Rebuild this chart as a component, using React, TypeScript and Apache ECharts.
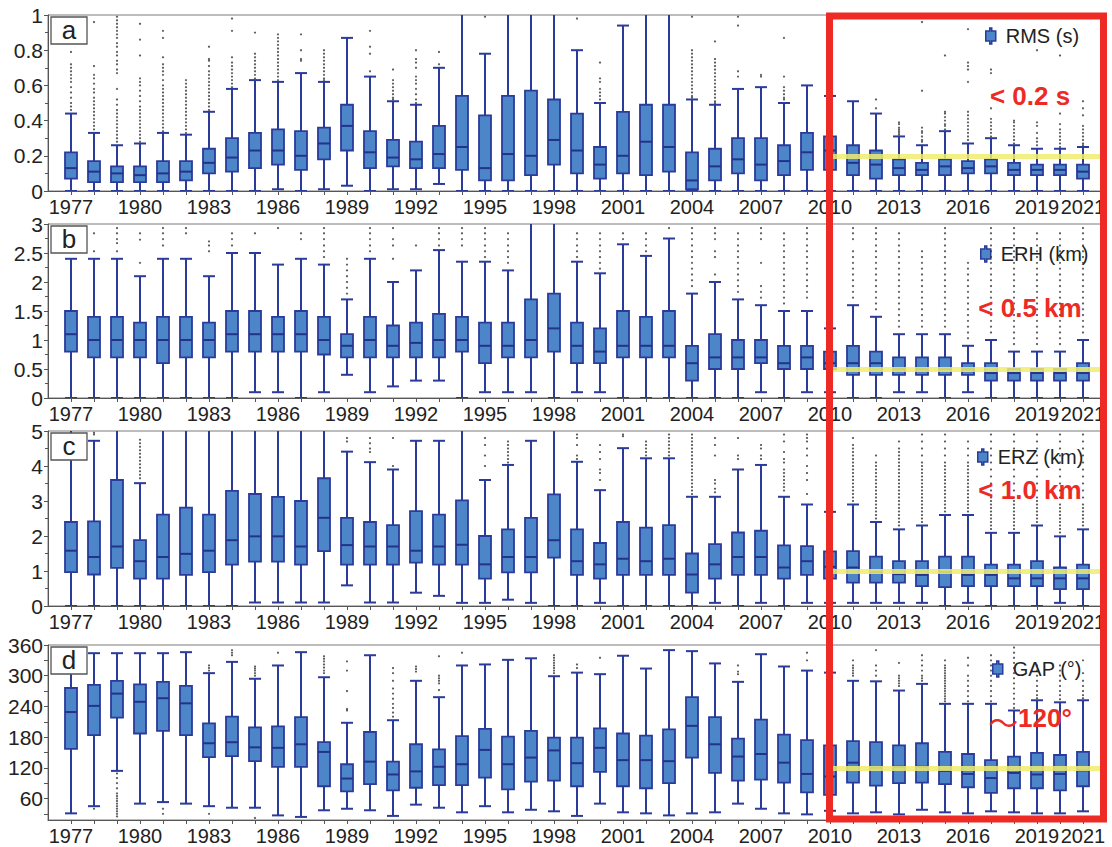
import React, { useEffect, useRef } from 'react';
import * as echarts from 'echarts';

// ---------- categories ----------
const years = [1977, 1978, 1979, 1980, 1981, 1982, 1983, 1984, 1985, 1986, 1987, 1988, 1989, 1990, 1991,
  1992, 1993, 1994, 1995, 1996, 1997, 1998, 1999, 2000, 2001, 2002, 2003, 2004, 2005, 2006, 2007, 2008,
  2009, 2010, 2011, 2012, 2013, 2014, 2015, 2016, 2017, 2018, 2019, 2020, 2021];
const labelYears = [1977, 1980, 1983, 1986, 1989, 1992, 1995, 1998, 2001, 2004, 2007, 2010, 2013, 2016, 2019, 2021];
const highlightStart = 2010;

// ---------- box values: [low whisker, Q1, median, Q3, high whisker] ----------
const rmsBoxes = [
  [0, 0.07, 0.13, 0.22, 0.44], [0, 0.05, 0.11, 0.17, 0.33], [0, 0.05, 0.10, 0.14, 0.26], [0, 0.05, 0.09, 0.14, 0.27],
  [0, 0.05, 0.10, 0.17, 0.33], [0, 0.06, 0.11, 0.17, 0.32], [0, 0.10, 0.16, 0.24, 0.45], [0, 0.11, 0.19, 0.30, 0.58],
  [0, 0.13, 0.23, 0.33, 0.63], [0.01, 0.15, 0.23, 0.35, 0.62], [0, 0.12, 0.20, 0.34, 0.67], [0.01, 0.18, 0.27, 0.36, 0.62],
  [0.03, 0.23, 0.37, 0.49, 0.87], [0, 0.13, 0.22, 0.34, 0.65], [0.01, 0.14, 0.19, 0.29, 0.51], [0.01, 0.13, 0.18, 0.28, 0.49],
  [0.04, 0.13, 0.21, 0.37, 0.70], [0, 0.12, 0.25, 0.54, 1.2], [0, 0.06, 0.13, 0.43, 0.78], [0, 0.06, 0.21, 0.54, 1.2],
  [0, 0.09, 0.20, 0.57, 1.2], [0, 0.15, 0.29, 0.52, 1.2], [0, 0.10, 0.23, 0.44, 0.80], [0, 0.07, 0.15, 0.25, 0.50],
  [0, 0.10, 0.20, 0.45, 0.94], [0, 0.09, 0.28, 0.49, 1.2], [0, 0.11, 0.25, 0.49, 1.2], [0, 0.01, 0.06, 0.22, 0.52],
  [0, 0.06, 0.14, 0.24, 0.49], [0, 0.10, 0.18, 0.30, 0.58], [0, 0.06, 0.15, 0.30, 0.59], [0, 0.09, 0.17, 0.26, 0.50],
  [0, 0.12, 0.22, 0.33, 0.60], [0, 0.12, 0.23, 0.31, 0.54], [0, 0.09, 0.16, 0.26, 0.51], [0, 0.07, 0.15, 0.23, 0.44],
  [0, 0.09, 0.13, 0.18, 0.31], [0, 0.09, 0.12, 0.16, 0.26], [0, 0.09, 0.14, 0.18, 0.34], [0, 0.10, 0.13, 0.17, 0.27],
  [0, 0.10, 0.14, 0.18, 0.30], [0, 0.09, 0.12, 0.16, 0.26], [0, 0.09, 0.12, 0.15, 0.24], [0, 0.09, 0.12, 0.15, 0.24],
  [0, 0.07, 0.11, 0.15, 0.25],
];
const erhBoxes = [
  [0, 0.8, 1.1, 1.5, 2.4], [0, 0.7, 1.0, 1.4, 2.4], [0, 0.7, 1.0, 1.4, 2.4], [0, 0.7, 1.0, 1.3, 2.1],
  [0, 0.6, 1.0, 1.4, 2.4], [0, 0.7, 1.0, 1.4, 2.4], [0, 0.7, 1.0, 1.3, 2.1], [0, 0.8, 1.1, 1.5, 2.5],
  [0.1, 0.8, 1.1, 1.5, 2.5], [0.1, 0.8, 1.1, 1.4, 2.3], [0, 0.8, 1.1, 1.5, 2.4], [0.1, 0.75, 1.0, 1.4, 2.3],
  [0.4, 0.7, 0.9, 1.1, 1.7], [0.1, 0.7, 1.0, 1.4, 2.4], [0.2, 0.7, 0.9, 1.25, 2.0], [0.3, 0.7, 0.95, 1.3, 2.2],
  [0.3, 0.7, 1.0, 1.45, 2.55], [0, 0.8, 1.0, 1.4, 2.35], [0.1, 0.6, 0.9, 1.3, 2.35], [0.1, 0.7, 0.9, 1.3, 2.2],
  [0.1, 0.7, 1.0, 1.7, 3.5], [0, 0.8, 1.2, 1.8, 3.5], [0.1, 0.6, 0.9, 1.3, 2.35], [0.1, 0.6, 0.8, 1.2, 2.15],
  [0, 0.7, 0.9, 1.5, 2.65], [0, 0.7, 0.9, 1.4, 2.45], [0, 0.7, 0.9, 1.5, 2.75], [0, 0.3, 0.6, 0.9, 1.8],
  [0, 0.5, 0.7, 1.1, 2.0], [0, 0.5, 0.7, 1.0, 1.7], [0.1, 0.6, 0.7, 1.0, 1.6], [0, 0.5, 0.6, 0.9, 1.5],
  [0.1, 0.5, 0.7, 0.9, 1.5], [0.1, 0.5, 0.6, 0.8, 1.2], [0, 0.4, 0.6, 0.9, 1.6], [0, 0.4, 0.6, 0.8, 1.4],
  [0.1, 0.4, 0.5, 0.7, 1.1], [0.1, 0.4, 0.5, 0.7, 1.1], [0, 0.4, 0.5, 0.7, 1.1], [0.1, 0.4, 0.5, 0.6, 0.9],
  [0, 0.3, 0.43, 0.6, 1.0], [0, 0.3, 0.43, 0.5, 0.8], [0, 0.3, 0.43, 0.5, 0.8], [0, 0.3, 0.43, 0.5, 0.8],
  [0, 0.3, 0.43, 0.6, 1.0],
];
const erzBoxes = [
  [0, 0.97, 1.58, 2.4, 5.5], [0, 0.9, 1.4, 2.42, 4.72], [0, 1.09, 1.7, 3.6, 5.5], [0, 0.78, 1.28, 1.88, 3.51],
  [0, 0.78, 1.4, 2.61, 5.5], [0, 0.89, 1.49, 2.81, 5.5], [0, 0.97, 1.58, 2.61, 5.5], [0, 1.18, 1.88, 3.29, 5.5],
  [0.1, 1.27, 1.99, 3.2, 5.5], [0.1, 1.27, 1.99, 3.12, 5.5], [0.1, 1.18, 1.7, 3.0, 5.5], [0.1, 1.57, 2.52, 3.65, 5.5],
  [0.59, 1.18, 1.74, 2.52, 4.41], [0.1, 1.18, 1.7, 2.4, 4.11], [0.1, 1.18, 1.7, 2.31, 3.9], [0.38, 1.24, 1.58, 2.71, 4.72],
  [0.29, 1.18, 1.7, 2.61, 4.72], [0.09, 1.18, 1.75, 3.02, 5.5], [0.09, 0.78, 1.19, 2.0, 3.6], [0.18, 0.96, 1.4, 2.19, 4.03],
  [0.09, 0.96, 1.4, 2.52, 4.72], [0, 1.38, 1.88, 3.19, 5.5], [0, 0.89, 1.28, 2.19, 4.12], [0.09, 0.78, 1.19, 1.8, 3.31],
  [0, 0.89, 1.35, 2.4, 4.51], [0, 0.89, 1.28, 2.24, 4.22], [0, 0.89, 1.35, 2.31, 4.22], [0, 0.38, 0.9, 1.5, 3.12],
  [0.09, 0.78, 1.19, 1.77, 3.12], [0, 0.89, 1.4, 2.1, 3.9], [0.09, 0.89, 1.4, 2.15, 4.03], [0, 0.78, 1.1, 1.73, 3.12],
  [0.09, 0.89, 1.28, 1.71, 2.9], [0.09, 0.78, 1.12, 1.56, 2.69], [0.09, 0.67, 1.1, 1.57, 2.9], [0.09, 0.67, 0.97, 1.41, 2.4],
  [0.09, 0.67, 0.91, 1.28, 2.19], [0.09, 0.57, 0.89, 1.28, 2.3], [0, 0.54, 0.97, 1.41, 2.6], [0.09, 0.57, 0.89, 1.41, 2.6],
  [0, 0.57, 0.89, 1.18, 2.09], [0, 0.57, 0.79, 1.18, 2.09], [0, 0.57, 0.79, 1.28, 2.3], [0.09, 0.48, 0.79, 1.1, 1.99],
  [0, 0.48, 0.79, 1.18, 2.19],
];
const gapBoxes = [
  [31, 157, 229, 276, 330], [45, 184, 241, 282, 344], [114, 218, 265, 290, 344], [50, 187, 249, 283, 344],
  [53, 192, 256, 288, 344], [50, 184, 246, 280, 346], [45, 141, 168, 207, 305], [42, 143, 170, 220, 327],
  [42, 133, 160, 199, 294], [27, 122, 159, 201, 320], [24, 122, 166, 219, 346], [37, 84, 151, 170, 297],
  [40, 74, 99, 127, 208], [37, 88, 132, 190, 340], [26, 76, 107, 132, 213], [48, 81, 113, 166, 290],
  [42, 86, 122, 156, 258], [33, 86, 127, 182, 320], [45, 101, 155, 196, 322], [33, 78, 127, 181, 331],
  [38, 93, 140, 192, 334], [35, 95, 154, 179, 299], [26, 84, 129, 179, 306], [50, 112, 159, 197, 303],
  [33, 84, 135, 187, 339], [31, 80, 135, 183, 314], [27, 90, 133, 195, 350], [31, 140, 202, 258, 348],
  [33, 110, 166, 219, 324], [50, 95, 142, 177, 288], [40, 97, 147, 214, 342], [31, 91, 130, 185, 318],
  [29, 72, 108, 174, 310], [36, 67, 103, 164, 306], [31, 91, 130, 172, 290], [33, 85, 120, 170, 289],
  [29, 90, 122, 164, 271], [38, 91, 122, 168, 284], [33, 88, 114, 151, 245], [31, 82, 108, 147, 245],
  [35, 71, 100, 135, 245], [33, 80, 110, 142, 232], [31, 80, 107, 149, 252], [31, 76, 108, 145, 248],
  [35, 84, 115, 151, 252],
];

// ---------- outliers per year ----------
const rmsOutliers: Record<number, number[]> = {
  1977: [0.79, 0.72, 0.70, 0.68, 0.66, 0.64, 0.62, 0.59, 0.56, 0.53, 0.50, 0.48, 0.46],
  1978: [0.96, 0.71, 0.66, 0.64, 0.61, 0.58, 0.56, 0.53, 0.51, 0.49, 0.47, 0.45, 0.43, 0.41, 0.39, 0.37, 0.35],
  1979: [0.99, 0.97, 0.95, 0.93, 0.91, 0.89, 0.87, 0.84, 0.82, 0.79, 0.77, 0.74, 0.72, 0.69, 0.67, 0.58, 0.52, 0.49, 0.46, 0.44, 0.42, 0.40, 0.38, 0.36, 0.34, 0.32, 0.30, 0.28],
  1980: [0.95, 0.86, 0.77, 0.64, 0.62, 0.60, 0.57, 0.54, 0.51, 0.48, 0.46, 0.44, 0.42, 0.40, 0.38, 0.36, 0.34, 0.32, 0.30, 0.28],
  1981: [0.91, 0.87, 0.76, 0.72, 0.70, 0.68, 0.66, 0.63, 0.60, 0.58, 0.56, 0.54, 0.52, 0.50, 0.48, 0.46, 0.44, 0.42, 0.40, 0.38, 0.36, 0.34],
  1982: [0.63, 0.61, 0.59, 0.57, 0.55, 0.53, 0.51, 0.49, 0.47, 0.45, 0.43, 0.41, 0.39, 0.37, 0.35, 0.33],
  1983: [0.82, 0.75, 0.74, 0.71, 0.68, 0.66, 0.64, 0.62, 0.60, 0.58, 0.56, 0.54, 0.52, 0.50, 0.48, 0.46],
  1984: [0.98, 0.91, 0.76, 0.73, 0.71, 0.69, 0.67, 0.65, 0.63, 0.61, 0.59],
  1985: [0.90, 0.78, 0.76, 0.74, 0.72, 0.70, 0.68, 0.66, 0.64],
  1986: [0.89, 0.87, 0.85, 0.83, 0.81, 0.79, 0.77, 0.75, 0.73, 0.71, 0.69, 0.67, 0.65, 0.63],
  1987: [0.89, 0.80, 0.75, 0.74],
  1988: [0.80, 0.78, 0.76, 0.74, 0.72, 0.70, 0.68, 0.66, 0.64, 0.63],
  1990: [0.91, 0.82, 0.78, 0.68],
  1991: [0.69, 0.63, 0.61, 0.59, 0.57, 0.55, 0.53, 0.52],
  1992: [0.80, 0.75, 0.73, 0.70, 0.65, 0.63, 0.61, 0.58, 0.55, 0.52, 0.50],
  1993: [0.79, 0.72],
  1995: [0.99],
  1999: [0.98],
  2000: [0.73, 0.64, 0.62, 0.58, 0.56, 0.54, 0.52],
  2004: [0.99, 0.80, 0.78, 0.76, 0.74, 0.72, 0.70, 0.68, 0.66, 0.64, 0.62, 0.60, 0.58, 0.56, 0.54, 0.53],
  2005: [0.85, 0.75, 0.73, 0.71, 0.69, 0.67, 0.65, 0.63, 0.61, 0.59, 0.57, 0.55, 0.53, 0.51, 0.50],
  2006: [0.99, 0.94, 0.68, 0.65],
  2007: [0.66, 0.65],
  2008: [0.87, 0.65, 0.59, 0.57, 0.55, 0.53, 0.52],
  2010: [0.90, 0.80, 0.70, 0.65, 0.60],
  2012: [0.52, 0.47],
  2013: [0.39, 0.38, 0.36, 0.35, 0.34, 0.33, 0.32],
  2014: [0.96, 0.57, 0.36, 0.34, 0.33, 0.31, 0.29, 0.28],
  2015: [0.77, 0.45, 0.44, 0.42, 0.40, 0.38, 0.37, 0.35],
  2016: [0.92, 0.73, 0.71, 0.69, 0.62, 0.45, 0.43, 0.41, 0.39, 0.37, 0.35, 0.33, 0.31, 0.29],
  2017: [0.69, 0.67, 0.47, 0.41, 0.39, 0.37, 0.35, 0.33, 0.31],
  2018: [0.40, 0.39, 0.37, 0.35, 0.33, 0.31, 0.29, 0.27],
  2019: [0.80, 0.39, 0.37, 0.33, 0.30, 0.28, 0.26],
  2020: [0.77, 0.44, 0.38, 0.35, 0.33, 0.31, 0.29, 0.27, 0.25],
  2021: [0.51, 0.47, 0.43, 0.37, 0.35, 0.33, 0.31, 0.29, 0.27, 0.26],
};
const erhOutliers: Record<number, number[]> = {
  1978: [2.84, 2.53],
  1979: [2.93, 2.84, 2.74, 2.67, 2.53],
  1980: [2.84, 2.73, 2.33],
  1981: [2.93, 2.84, 2.74, 2.63],
  1982: [2.93, 2.84],
  1983: [2.7, 2.63, 2.53],
  1984: [2.84, 2.74, 2.63],
  1985: [2.84],
  1986: [2.93],
  1987: [2.84, 2.74],
  1988: [2.93, 2.84, 2.74, 2.63, 2.53, 2.43],
  1989: [2.4, 2.3, 2.2, 2.1, 2.0, 1.9, 1.8],
  1990: [2.93, 2.84, 2.74, 2.63, 2.53],
  1991: [2.93, 2.74, 2.63, 2.4],
  1992: [2.63],
  1993: [2.93, 2.84, 2.74, 2.63],
  1994: [2.93, 2.84, 2.74, 2.63],
  1995: [2.93, 2.84, 2.74, 2.63, 2.53, 2.43],
  1996: [2.84, 2.74, 2.63, 2.53, 2.43, 2.33],
  1999: [2.84, 2.74, 2.63, 2.53, 2.43],
  2000: [2.84, 2.74, 2.63, 2.53, 2.43, 2.33, 2.23],
  2001: [2.84, 2.74],
  2002: [2.84, 2.74, 2.63, 2.53],
  2003: [2.93],
  2004: [2.93, 2.84, 2.74, 2.63, 2.53, 2.43, 2.33, 2.23, 2.13, 2.03, 1.93],
  2005: [2.93, 2.84, 2.74, 2.53, 2.43, 2.13],
  2006: [2.84, 2.74, 2.63, 2.53, 2.43, 2.33, 2.23, 2.13, 2.03, 1.93, 1.83],
  2007: [2.93, 2.84, 2.74, 2.33, 1.93, 1.83, 1.73],
  2008: [2.84, 2.74, 2.63, 2.53, 2.43, 2.33, 2.23, 2.13, 2.03, 1.93, 1.83, 1.73, 1.63],
  2009: [2.93, 2.84, 2.74, 2.63, 2.53, 2.43, 2.33, 2.23, 2.13, 2.03, 1.93, 1.83, 1.73],
  2010: [2.9, 2.8, 2.7, 2.5, 2.3, 2.1, 1.9, 1.7, 1.5, 1.3],
  2011: [2.93, 2.84, 2.74, 2.53, 2.43, 2.33, 2.23, 2.13, 2.03, 1.93, 1.83, 1.73],
  2012: [2.93, 2.84, 2.74, 2.63, 2.53, 2.43, 2.33, 2.23, 2.13, 2.03, 1.93, 1.83, 1.73, 1.63, 1.53],
  2013: [2.84, 2.74, 2.63, 2.53, 2.43, 2.33, 2.23, 2.13, 2.03, 1.93, 1.83, 1.73, 1.63, 1.53, 1.43, 1.33, 1.23],
  2014: [2.53, 2.43, 2.33, 2.23, 2.13, 2.03, 1.93, 1.83, 1.73, 1.63, 1.53, 1.43, 1.33, 1.23],
  2015: [2.93, 2.84, 2.74, 2.63, 2.53, 2.43, 2.33, 2.23, 2.13, 2.03, 1.93, 1.83, 1.73, 1.63, 1.53, 1.43, 1.33, 1.23],
  2016: [2.33, 2.23, 2.13, 2.03, 1.93, 1.83, 1.73, 1.63, 1.53, 1.43, 1.33, 1.23, 1.13, 1.03],
  2017: [2.93, 2.84, 2.74, 2.63, 2.53, 2.43, 2.33, 2.23, 2.13, 2.03, 1.93, 1.83, 1.73, 1.63, 1.53, 1.43, 1.33, 1.23, 1.13],
  2018: [2.93, 2.84, 2.74, 2.63, 2.53, 2.43, 2.33, 2.23, 2.13, 2.03, 1.93, 1.83, 1.73, 1.63, 1.53, 1.43, 1.33, 1.23, 1.13, 1.03, 0.93],
  2019: [2.84, 2.74, 2.63, 2.53, 2.43, 2.33, 2.23, 2.13, 2.03, 1.93, 1.83, 1.73, 1.63, 1.53, 1.43, 1.33, 1.23, 1.13, 1.03, 0.93],
  2020: [2.84, 2.74, 2.63, 2.53, 2.43, 2.33, 2.23, 2.13, 2.03, 1.93, 1.83, 1.73, 1.63, 1.53, 1.43, 1.33, 1.23, 1.13, 1.03, 0.93],
  2021: [2.93, 2.84, 2.74, 2.63, 2.53, 2.43, 2.33, 2.23, 2.13, 2.03, 1.93, 1.83, 1.73, 1.63, 1.53, 1.43, 1.33, 1.23, 1.13],
};
const erzOutliers: Record<number, number[]> = {
  1978: [4.95, 4.9],
  1980: [4.75, 4.65, 4.55, 4.45, 4.35, 4.25, 4.15, 4.05, 3.95, 3.85, 3.75, 3.65],
  1989: [4.8, 4.7],
  1990: [4.8, 4.65, 4.5, 4.4],
  1991: [4.8, 4.0],
  1995: [4.8, 4.6, 4.3, 4.0],
  1996: [4.7, 4.6, 4.5, 4.4, 4.3, 4.2, 4.1],
  1999: [4.9, 4.8, 4.6, 4.3, 4.2],
  2000: [4.6, 4.4, 4.2, 3.9, 3.8, 3.6],
  2001: [4.9, 4.85],
  2002: [4.7, 4.6, 4.5, 4.4, 4.3],
  2003: [4.9, 4.8, 4.7, 4.6, 4.5, 4.4, 4.3],
  2004: [4.9, 4.8, 4.7, 4.6, 4.5, 4.4, 4.3, 4.2, 4.1, 4.0, 3.9, 3.8, 3.7, 3.6, 3.5, 3.4, 3.3, 3.2],
  2005: [4.8, 4.6, 4.3, 3.6, 3.5, 3.35, 3.25],
  2006: [4.8, 4.3, 4.2],
  2007: [4.6, 4.5, 4.3, 4.2],
  2008: [4.9, 4.7, 4.4, 4.2, 4.1, 3.9, 3.8, 3.7, 3.6, 3.5, 3.4, 3.3],
  2009: [4.9, 4.8, 4.7, 4.5, 4.3, 4.0, 3.8, 3.6, 3.2],
  2010: [4.8, 4.5, 4.2, 3.9, 3.6, 3.3, 3.0],
  2011: [4.8, 4.6, 4.5, 4.4, 4.3, 4.2, 4.1, 4.0, 3.9, 3.8, 3.7, 3.6, 3.5, 3.4, 3.3, 3.2, 3.1, 3.0],
  2012: [4.3, 4.1, 4.0, 3.9, 3.8, 3.7, 3.6, 3.5, 3.4, 3.3, 3.2, 3.1, 3.0, 2.9, 2.8, 2.7, 2.6, 2.5],
  2013: [4.7, 4.5, 4.4, 4.3, 4.2, 4.1, 4.0, 3.9, 3.8, 3.7, 3.6, 3.5, 3.4, 3.3, 3.2, 3.1, 3.0, 2.9, 2.8, 2.7, 2.6, 2.5, 2.4, 2.3],
  2014: [4.9, 4.7, 4.5, 4.3, 4.1, 4.0, 3.9, 3.8, 3.7, 3.6, 3.5, 3.4, 3.3, 3.2, 3.1, 3.0, 2.9, 2.8, 2.7, 2.6, 2.5, 2.4],
  2015: [4.9, 4.7, 4.5, 4.3, 4.1, 4.0, 3.9, 3.8, 3.7, 3.6, 3.5, 3.4, 3.3, 3.2, 3.1, 3.0, 2.9, 2.8, 2.7],
  2016: [4.7, 4.5, 4.3, 4.1, 4.0, 3.9, 3.8, 3.7, 3.6, 3.5, 3.4, 3.3, 3.2, 3.1, 3.0, 2.9, 2.8, 2.7],
  2017: [4.9, 4.7, 4.5, 4.3, 4.1, 3.9, 3.7, 3.5, 3.3, 3.1, 3.0, 2.9, 2.8, 2.7, 2.6, 2.5, 2.4, 2.3, 2.2],
  2018: [4.9, 4.7, 4.5, 4.3, 4.1, 3.9, 3.7, 3.5, 3.3, 3.1, 3.0, 2.9, 2.8, 2.7, 2.6, 2.5, 2.4, 2.3, 2.2],
  2019: [4.9, 4.7, 4.5, 4.3, 4.1, 3.9, 3.7, 3.5, 3.3, 3.1, 3.0, 2.9, 2.8, 2.7, 2.6, 2.5, 2.4],
  2020: [4.9, 4.7, 4.5, 4.3, 4.1, 3.9, 3.7, 3.5, 3.3, 3.1, 2.9, 2.8, 2.7, 2.6, 2.5, 2.4, 2.3, 2.2, 2.1],
  2021: [4.9, 4.7, 4.5, 4.3, 4.1, 3.9, 3.7, 3.5, 3.3, 3.1, 2.9, 2.8, 2.7, 2.6, 2.5, 2.4, 2.3],
};
const gapOutliers: Record<number, number[]> = {
  1978: [40],
  1979: [109, 100, 90, 80, 70, 65, 60, 55, 50, 45, 40, 35, 30, 25],
  1981: [40, 30],
  1983: [320, 315, 310, 30],
  1984: [350, 345, 340],
  1985: [318, 314, 310, 305, 300, 22],
  1986: [345],
  1988: [338, 333, 328, 322, 316, 310, 305],
  1989: [328, 310, 270, 235, 232],
  1991: [315, 305, 290, 275, 265, 255, 245, 237, 228, 220],
  1992: [318, 313, 308],
  1993: [338, 300, 295, 290, 285, 272],
  1994: [345],
  1998: [340, 335, 330, 325, 320, 315, 310, 305],
  1999: [322, 315],
  2000: [335],
  2006: [320, 308, 303],
  2009: [345, 330],
  2010: [350, 330, 320],
  2011: [330, 320, 315, 310, 305, 300],
  2012: [350, 320, 310, 300],
  2013: [325, 300, 295, 290, 285, 280],
  2014: [340, 330, 320, 310, 300, 295, 290],
  2015: [330, 320, 315, 310, 305, 300, 295, 290, 285, 280, 275, 270, 265, 260, 255, 250],
  2016: [335, 320, 300, 290, 280, 270, 260, 250],
  2017: [340, 330, 320, 310, 300, 290, 280, 270, 260, 250],
  2018: [355, 345, 335, 325, 315, 305, 295, 285, 275, 265, 255, 245, 237],
  2019: [320, 310, 300, 290, 280, 270, 262, 256],
  2020: [320, 310, 300, 290, 280, 270, 262, 254],
  2021: [330, 305, 290, 280, 270, 262, 256],
};

// ---------- axis ticks / targets ----------
const gapTickLabels = [60, 120, 180, 240, 300, 360];
const gapTicks = [30, 60, 90, 120, 150, 180, 210, 240, 270, 300, 330, 360];
const targets = [0.2, 0.5, 1.0, 120];

// ---------- styling ----------
const FONT = 'Liberation Sans, Arial, Helvetica, sans-serif';
const BOX_FILL = '#4C86C8';
const BOX_EDGE = '#2B3B9B';
const RED = '#EE2A24';
const YELLOW = 'rgba(240,236,110,0.85)';

const panels = [
  { name: 'RMS (s)', letter: 'a', boxes: rmsBoxes, outliers: rmsOutliers, min: 0, max: 1, interval: 0.2, top: 15, height: 176, legendLeft: 985, legendTop: 26, note: '< 0.2 s', noteY: 96 },
  { name: 'ERH (km)', letter: 'b', boxes: erhBoxes, outliers: erhOutliers, min: 0, max: 3, interval: 0.5, top: 224, height: 174, legendLeft: 980, legendTop: 244, note: '< 0.5 km', noteY: 308 },
  { name: 'ERZ (km)', letter: 'c', boxes: erzBoxes, outliers: erzOutliers, min: 0, max: 5, interval: 1, top: 431, height: 175, legendLeft: 977, legendTop: 447, note: '< 1.0 km', noteY: 490 },
  { name: 'GAP (°)', letter: 'd', boxes: gapBoxes, outliers: gapOutliers, min: 18, max: 360, interval: null, top: 645, height: 175, legendLeft: 992, legendTop: 659, note: '{t|～}{b|120°}', noteY: 718 },
];

function renderBox(params: any, api: any) {
  const x = api.value(0);
  const lo = api.coord([x, api.value(1)]);
  const q1 = api.coord([x, api.value(2)]);
  const md = api.coord([x, api.value(3)]);
  const q3 = api.coord([x, api.value(4)]);
  const hi = api.coord([x, api.value(5)]);
  const cx = lo[0];
  const hw = 6;
  const ls = { stroke: BOX_EDGE, lineWidth: 2 };
  return {
    type: 'group',
    children: [
      { type: 'line', shape: { x1: cx, y1: hi[1], x2: cx, y2: q3[1] }, style: ls },
      { type: 'line', shape: { x1: cx, y1: q1[1], x2: cx, y2: lo[1] }, style: ls },
      { type: 'line', shape: { x1: cx - hw, y1: hi[1], x2: cx + hw, y2: hi[1] }, style: ls },
      { type: 'line', shape: { x1: cx - hw, y1: lo[1], x2: cx + hw, y2: lo[1] }, style: ls },
      { type: 'rect', shape: { x: cx - hw, y: q3[1], width: 2 * hw, height: q1[1] - q3[1] }, style: { fill: BOX_FILL, stroke: BOX_EDGE, lineWidth: 1.8 } },
      { type: 'line', shape: { x1: cx - hw, y1: md[1], x2: cx + hw, y2: md[1] }, style: { stroke: '#23338C', lineWidth: 2 } },
    ],
  };
}

function buildOption() {
  const grid: any[] = [];
  const xAxis: any[] = [];
  const yAxis: any[] = [];
  const series: any[] = [];
  const legend: any[] = [];
  const graphic: any[] = [];

  panels.forEach((p, i) => {
    grid.push({ left: 48, right: 6, top: p.top, height: p.height, show: true, borderColor: '#7a7a7a', borderWidth: 1, backgroundColor: 'transparent' });
    xAxis.push({
      type: 'value', gridIndex: i, min: 1976, max: 2022,
      axisLine: { show: true, onZero: false, lineStyle: { color: '#555', width: 1 } },
      axisTick: { show: true, length: 4, customValues: years, lineStyle: { color: '#555' } },
      axisLabel: { customValues: labelYears, formatter: (v: number) => String(v), fontSize: 20, color: '#222', margin: 6, fontFamily: FONT },
      splitLine: { show: false },
    });
    const y: any = {
      type: 'value', gridIndex: i, min: p.min, max: p.max,
      axisLine: { show: true, lineStyle: { color: '#555', width: 1 } },
      axisTick: { show: true, length: 4, lineStyle: { color: '#555' } },
      axisLabel: { fontSize: 21, color: '#222', margin: 5, fontFamily: FONT },
      splitLine: { show: false },
    };
    if (p.interval != null) {
      y.interval = p.interval;
      y.minorTick = { show: true, splitNumber: 2, length: 3, lineStyle: { color: '#555' } };
    } else {
      y.axisLabel.customValues = gapTickLabels;
      y.axisTick.customValues = gapTicks;
    }
    yAxis.push(y);

    series.push({
      type: 'custom', name: p.name, xAxisIndex: i, yAxisIndex: i, clip: true, silent: true,
      itemStyle: { color: BOX_FILL, borderColor: BOX_EDGE },
      renderItem: renderBox,
      encode: { x: 0, y: [1, 2, 3, 4, 5] },
      data: years.map((yr, k) => [yr, ...p.boxes[k]]),
      z: 2,
    });
    const pts: number[][] = [];
    years.forEach((yr) => (p.outliers[yr] || []).forEach((v) => pts.push([yr, v])));
    series.push({
      type: 'scatter', name: p.name + ' outliers', xAxisIndex: i, yAxisIndex: i, silent: true, z: 4,
      symbol: 'circle', symbolSize: 2.2, itemStyle: { color: '#333' },
      data: pts,
      markLine: {
        silent: true, symbol: ['none', 'none'], label: { show: false },
        lineStyle: { color: YELLOW, width: 5, type: 'solid' },
        data: [[{ coord: [highlightStart, targets[i]] }, { coord: [2022, targets[i]] }]],
      },
    });
    legend.push({
      data: [p.name], left: p.legendLeft, top: p.legendTop, padding: 0, itemWidth: 14, itemHeight: 16,
      icon: 'path://M4,0H6V3H10V13H6V16H4V13H0V3H4Z', selectedMode: false,
      itemStyle: { color: BOX_FILL, borderColor: BOX_EDGE, borderWidth: 1.5 },
      textStyle: { fontSize: 20, color: '#222', fontFamily: FONT, padding: [0, 0, 0, 3] },
    });
    // panel letter box
    graphic.push({
      type: 'rect', z: 100, shape: { x: 51, y: p.top + 2, width: 36, height: 27 },
      style: { fill: '#fff', stroke: '#555', lineWidth: 1.3 },
    });
    graphic.push({
      type: 'text', z: 101, x: 69, y: p.top + 15,
      style: { text: p.letter, fontSize: 26, fontFamily: FONT, fill: '#222', align: 'center', verticalAlign: 'middle' },
    });
    graphic.push({
      type: 'text', x: 1030, y: p.noteY, z: 100,
      style: {
        text: p.note, fontSize: 26, fontWeight: 'bold', fontFamily: FONT, fill: RED, align: 'center', verticalAlign: 'middle',
        rich: {
          t: { fontSize: 30, fontWeight: 'normal', fontFamily: 'Noto Sans CJK SC', fill: RED, padding: [6, 0, 0, 0] },
          b: { fontSize: 26, fontWeight: 'bold', fontFamily: FONT, fill: RED },
        },
      },
    });
  });

  graphic.push({
    type: 'rect', z: 99, shape: { x: 829.5, y: 16, width: 274, height: 803 },
    style: { fill: 'none', stroke: RED, lineWidth: 7 },
  });

  return { animation: false, backgroundColor: '#fff', grid, xAxis, yAxis, series, legend, graphic };
}

export default function App() {
  const ref = useRef<HTMLDivElement>(null);
  useEffect(() => {
    if (!ref.current) return;
    const chart = echarts.init(ref.current, undefined, { renderer: 'svg' });
    chart.setOption(buildOption() as any);
    return () => chart.dispose();
  }, []);
  return <div ref={ref} style={{ position: 'absolute', left: 0, top: 0, width: 1112, height: 847, background: '#fff' }} />;
}
